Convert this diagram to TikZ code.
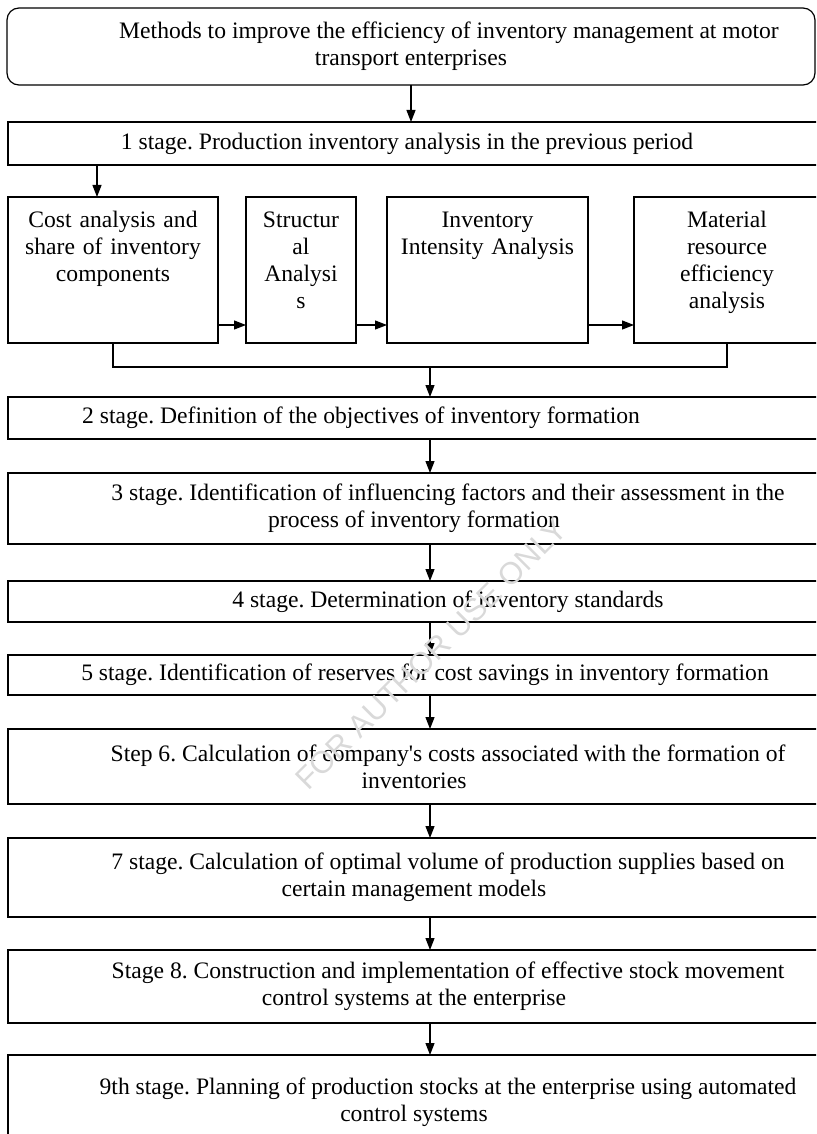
\documentclass[tikz,border=0pt]{standalone}
\usepackage{fontspec}
\setmainfont{Liberation Serif}
\newfontfamily\wmfont{Liberation Sans}
\usetikzlibrary{arrows.meta,positioning}
\frenchspacing

\begin{document}
\begin{tikzpicture}[
		stagebox/.style={draw, line width=1.2pt, align=center, inner sep=0pt, outer sep=0pt,
				font=\fontsize{23.6}{27}\selectfont, minimum width=812pt},
		partbox/.style={draw, line width=1.2pt, align=center, inner xsep=3pt, inner ysep=0pt, outer sep=0pt,
				font=\fontsize{23.6}{27}\selectfont, text height=30pt, text depth=116pt},
		arr/.style={line width=1.2pt, -{Triangle[length=12pt,width=9pt]}},
		wmark/.style={font=\wmfont\fontsize{31}{31}\selectfont, text=gray!30}
		]
		\clip (0pt,0pt) rectangle (816pt,-1134pt);
		\node[stagebox, rounded corners=12pt, minimum width=808pt, minimum height=77pt] (top) at (411pt,-46.5pt)
			{\hspace*{76pt}Methods to improve the efficiency of inventory management at motor\\ transport enterprises};
		\node[stagebox, minimum height=43pt, below=37pt of top, xshift=3pt] (s1)
			{1 stage. Production inventory analysis in the previous period\hspace*{14pt}};
		\node[partbox, text width=204pt, anchor=north west] (cost) at ([yshift=-32pt]s1.south west)
			{Cost analysis and\\ share of inventory\\ components};
		\node[partbox, text width=104pt, right=28pt of cost] (struct) {Structur\\ al\\ Analysi\\ s};
		\node[partbox, text width=195pt, right=31pt of struct] (inten) {Inventory\\ Intensity Analysis};
		\node[partbox, text width=180pt, right=46pt of inten] (mater) {Material\\ resource\\ efficiency\\ analysis};
		\node[stagebox, minimum height=42pt, below=232pt of s1] (s2)
			{2 stage. Definition of the objectives of inventory formation\hspace*{106pt}};
		\node[stagebox, minimum height=71pt, below=34pt of s2] (s3)
			{\hspace*{68pt}3 stage. Identification of influencing factors and their assessment in the\\ process of inventory formation};
		\node[stagebox, minimum height=41pt, below=37pt of s3] (s4)
			{\hspace*{68pt}4 stage. Determination of inventory standards};
		\node[stagebox, minimum height=40pt, below=33pt of s4] (s5)
			{\hspace*{22pt}5 stage. Identification of reserves for cost savings in inventory formation};
		\node[stagebox, minimum height=75pt, below=34pt of s5] (s6)
			{\hspace*{68pt}Step 6. Calculation of company\textquotesingle s costs associated with the formation of\\ inventories};
		\node[stagebox, minimum height=79pt, below=34pt of s6] (s7)
			{\hspace*{68pt}7 stage. Calculation of optimal volume of production supplies based on\\ certain management models};
		\node[stagebox, minimum height=73pt, below=33pt of s7] (s8)
			{\hspace*{68pt}Stage 8. Construction and implementation of effective stock movement\\ control systems at the enterprise};
		\node[stagebox, minimum height=94pt, below=32pt of s8] (s9)
			{\hspace*{68pt}9th stage. Planning of production stocks at the enterprise using automated\\ control systems};
		\coordinate (join) at (430pt,-367pt);
		\draw[arr] (top) -- (top |- s1.north);
		\draw[arr] ([xshift=-16pt]cost.north |- s1.south) -- ([xshift=-16pt]cost.north);
		\foreach \a/\b in {cost/struct, struct/inten, inten/mater}
		\draw[arr] ([yshift=18pt]\a.south east) -- ([yshift=18pt]\b.south west);
		\draw[line width=1.2pt] (cost.south) -- ++(0,-24pt) -| (mater.south);
		\draw[arr] (join) -- (join |- s2.north);
		\foreach \a/\b in {s2/s3, s3/s4, s4/s5, s5/s6, s6/s7, s7/s8, s8/s9}
		\draw[arr] ([xshift=16pt]\a.south) -- ([xshift=16pt]\b.north);
		\node[wmark, rotate=45] (wm) at (431pt,-654pt) {FOR AUTHOR USE ONLY};
	\end{tikzpicture}
\end{document}
